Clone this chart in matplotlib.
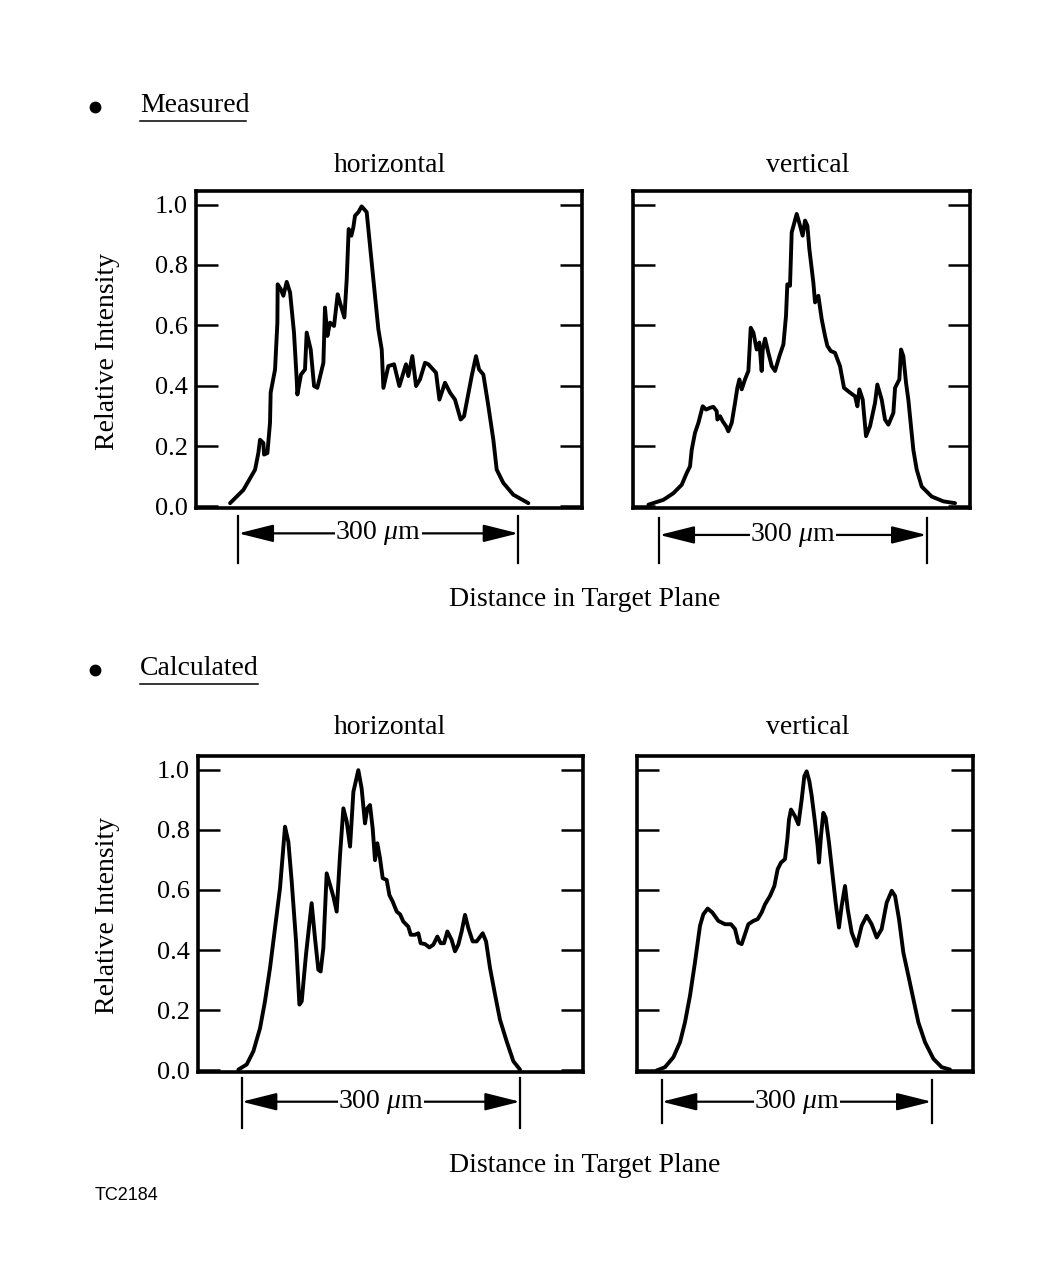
import matplotlib
matplotlib.use("Agg")
import matplotlib.pyplot as plt
from matplotlib.lines import Line2D

plt.rcParams['font.family'] = ['Liberation Serif', 'DejaVu Serif']
plt.rcParams['mathtext.fontset'] = 'custom'
plt.rcParams['mathtext.rm'] = 'Liberation Serif'
plt.rcParams['mathtext.it'] = 'Liberation Serif:italic'

# ---------------- data (distance in um, relative intensity) ----------------
meas_h_x = [-8.9, 5.4, 17.9, 21.4, 23.2, 26.8, 27.5, 31.1, 33.9, 34.6, 39.3, 41.8, 42.1, 45.4,
            48.2, 51.8, 55.4, 59.6, 62.5, 63.2, 67.1, 71.4, 73.2, 77.5, 81.1, 84.6, 91.1, 92.8,
            95.4, 98.2, 102.5, 106.4, 108.9, 113.6, 116.1, 118.2, 121.1, 123.2, 125.0, 128.6,
            132.1, 137.5, 143.9, 150.0, 153.6, 155.4, 160.7, 166.8, 172.5, 176.8, 179.6, 182.1,
            186.4, 190.4, 194.6, 200.0, 203.6, 211.8, 215.4, 221.4, 226.8, 232.1, 238.2, 241.8,
            250.0, 254.6, 257.9, 262.5, 267.9, 273.2, 276.8, 283.9, 294.6, 310.7]
meas_h_y = [0.011, 0.055, 0.122, 0.177, 0.221, 0.210, 0.172, 0.177, 0.277, 0.377, 0.454, 0.609,
            0.736, 0.720, 0.698, 0.744, 0.709, 0.576, 0.421, 0.371, 0.437, 0.454, 0.576, 0.520,
            0.399, 0.393, 0.476, 0.659, 0.565, 0.609, 0.598, 0.703, 0.675, 0.626, 0.753, 0.919,
            0.897, 0.925, 0.963, 0.975, 0.994, 0.975, 0.775, 0.587, 0.520, 0.393, 0.465, 0.471,
            0.399, 0.443, 0.471, 0.432, 0.498, 0.399, 0.421, 0.476, 0.471, 0.443, 0.354, 0.410,
            0.377, 0.354, 0.288, 0.299, 0.432, 0.498, 0.454, 0.437, 0.332, 0.221, 0.122, 0.078,
            0.039, 0.011]

meas_v_x = [-12.3, 4.5, 15.7, 25.1, 30.7, 34.4, 36.3, 40.0, 43.8, 48.6, 52.4, 56.9, 60.6, 64.3,
            65.1, 68.1, 71.1, 74.8, 77.4, 81.2, 84.9, 87.5, 89.8, 92.4, 96.1, 99.9, 102.5, 105.5,
            109.2, 112.2, 114.8, 116.0, 118.6, 122.3, 126.1, 129.8, 134.7, 139.2, 142.1, 143.6,
            146.6, 148.5, 151.1, 154.1, 157.9, 160.8, 163.5, 166.1, 168.3, 172.8, 174.7, 178.4,
            182.2, 185.9, 188.5, 192.3, 197.1, 202.7, 207.2, 214.0, 219.6, 222.2, 224.4, 228.2,
            231.9, 236.4, 242.0, 244.6, 249.5, 253.2, 257.0, 262.6, 264.5, 269.3, 271.2, 273.8,
            276.8, 279.4, 285.0, 288.8, 294.4, 305.6, 318.7, 331.8]
meas_v_y = [0.006, 0.022, 0.044, 0.072, 0.111, 0.133, 0.188, 0.244, 0.277, 0.332, 0.321, 0.327,
            0.330, 0.316, 0.288, 0.299, 0.282, 0.266, 0.249, 0.277, 0.343, 0.393, 0.421, 0.388,
            0.421, 0.449, 0.592, 0.576, 0.520, 0.543, 0.449, 0.520, 0.556, 0.509, 0.465, 0.449,
            0.498, 0.537, 0.631, 0.736, 0.731, 0.908, 0.936, 0.969, 0.930, 0.897, 0.947, 0.930,
            0.853, 0.742, 0.676, 0.698, 0.620, 0.565, 0.532, 0.515, 0.509, 0.465, 0.393, 0.377,
            0.365, 0.332, 0.388, 0.354, 0.233, 0.266, 0.343, 0.404, 0.354, 0.288, 0.271, 0.310,
            0.393, 0.421, 0.520, 0.498, 0.410, 0.354, 0.188, 0.122, 0.066, 0.033, 0.017, 0.011]

calc_h_x = [-3.6, 5.4, 12.6, 19.8, 25.1, 30.5, 35.9, 41.3, 46.7, 50.3, 53.9, 58.6, 62.2, 64.7,
            69.3, 75.4, 79.0, 82.6, 85.1, 88.0, 91.6, 95.2, 98.8, 102.4, 106.0, 109.6, 113.2,
            116.8, 120.4, 125.7, 129.3, 132.9, 135.4, 138.3, 141.2, 143.7, 146.2, 149.1, 152.0,
            156.3, 159.2, 162.8, 167.1, 170.7, 174.2, 179.6, 182.2, 186.8, 190.4, 192.9, 197.6,
            202.3, 206.6, 210.9, 214.5, 218.1, 221.7, 226.3, 229.9, 233.5, 237.1, 240.7, 244.3,
            249.0, 253.3, 259.8, 263.4, 267.7, 273.1, 278.4, 285.6, 292.8, 300.0]
calc_h_y = [0.003, 0.020, 0.064, 0.141, 0.230, 0.340, 0.473, 0.606, 0.810, 0.760, 0.628, 0.429,
            0.219, 0.230, 0.385, 0.556, 0.440, 0.335, 0.329, 0.407, 0.655, 0.617, 0.578, 0.528,
            0.716, 0.871, 0.827, 0.744, 0.926, 0.998, 0.937, 0.821, 0.871, 0.882, 0.804, 0.699,
            0.755, 0.705, 0.639, 0.633, 0.583, 0.561, 0.528, 0.519, 0.495, 0.478, 0.451, 0.451,
            0.456, 0.423, 0.420, 0.409, 0.418, 0.445, 0.423, 0.423, 0.462, 0.434, 0.396, 0.418,
            0.462, 0.517, 0.473, 0.429, 0.429, 0.456, 0.429, 0.340, 0.252, 0.169, 0.097, 0.031,
            0.003]

calc_v_x = [-5.6, 3.7, 13.0, 20.4, 25.9, 31.5, 37.0, 42.6, 46.3, 51.1, 56.3, 63.0, 70.4, 77.0,
            81.5, 85.2, 88.9, 92.6, 96.3, 101.9, 106.7, 111.1, 114.8, 120.4, 125.2, 128.9, 132.6,
            137.0, 139.6, 141.5, 143.7, 148.1, 151.9, 155.6, 158.5, 161.1, 164.1, 166.7, 170.4,
            173.3, 174.8, 177.0, 179.6, 182.2, 185.9, 189.6, 193.3, 197.0, 200.0, 203.7, 206.7,
            211.1, 216.7, 222.2, 227.8, 233.3, 238.9, 244.4, 250.0, 255.6, 259.3, 263.7, 268.5,
            274.1, 279.6, 285.2, 292.6, 301.9, 311.1, 320.4]
calc_v_y = [0.000, 0.011, 0.044, 0.094, 0.160, 0.249, 0.359, 0.481, 0.519, 0.538, 0.525, 0.497,
            0.486, 0.486, 0.470, 0.425, 0.420, 0.453, 0.486, 0.497, 0.503, 0.525, 0.552, 0.580,
            0.613, 0.669, 0.691, 0.702, 0.768, 0.834, 0.867, 0.845, 0.818, 0.901, 0.978, 0.994,
            0.961, 0.912, 0.823, 0.746, 0.691, 0.779, 0.856, 0.840, 0.757, 0.657, 0.558, 0.475,
            0.547, 0.613, 0.536, 0.459, 0.414, 0.481, 0.514, 0.486, 0.442, 0.470, 0.558, 0.597,
            0.580, 0.503, 0.392, 0.315, 0.238, 0.160, 0.094, 0.039, 0.011, 0.003]

y_ticks = [0.0, 0.2, 0.4, 0.6, 0.8, 1.0]
y_tick_labels = ['0.0', '0.2', '0.4', '0.6', '0.8', '1.0']
scale_length = 300  # um
scale_label = r'300 $\mu$m'
panel_titles = ['horizontal', 'vertical']
section_titles = ['Measured', 'Calculated']
x_label = 'Distance in Target Plane'
y_label = 'Relative Intensity'
fig_id = 'TC2184'

# ---------------- layout ----------------
W, H = 1063, 1263
fig = plt.figure(figsize=(W / 100, H / 100), dpi=100)
fig.patch.set_facecolor('white')


def fx(px):
    return px / W


def fy(py):
    return 1 - py / H


panels = [
    (meas_h_x, meas_h_y, [fx(196), fy(508), fx(582) - fx(196), fy(191) - fy(508)], (-45.4, 368.2), -0.080, (-0.024, -0.172), True),
    (meas_v_x, meas_v_y, [fx(633), fy(508), fx(970) - fx(633), fy(191) - fy(508)], (-29.6, 348.6), -0.085, (-0.032, -0.174), False),
    (calc_h_x, calc_h_y, [fx(198), fy(1072), fx(583) - fx(198), fy(756) - fy(1072)], (-47.1, 367.9), -0.094, (-0.020, -0.176), True),
    (calc_v_x, calc_v_y, [fx(637), fy(1072), fx(973) - fx(637), fy(756) - fy(1072)], (-27.4, 345.9), -0.094, (-0.025, -0.162), False),
]

lw_spine = 2.6
for (xs, ys, rect, xlim, ay, bars, show_labels) in panels:
    ax = fig.add_axes(rect)
    ax.plot(xs, ys, color='black', lw=2.8, solid_joinstyle='round', solid_capstyle='round')
    ax.set_xlim(*xlim)
    ax.set_ylim(-0.005, 1.045)
    ax.set_xticks([])
    ax.set_yticks(y_ticks)
    if show_labels:
        ax.set_yticklabels(y_tick_labels, fontsize=19)
    else:
        ax.set_yticklabels([])
    ax.tick_params(axis='y', direction='in', length=16, width=1.8, left=True, right=True, pad=6)
    for s in ax.spines.values():
        s.set_linewidth(lw_spine)
    tr = ax.get_xaxis_transform()
    # scale bar
    for bx in (0, scale_length):
        ax.plot([bx, bx], list(bars), color='black', lw=1.6, transform=tr, clip_on=False)
    for end in (0, scale_length):
        ax.annotate('', xy=(end, ay), xytext=(scale_length / 2, ay), xycoords=tr, textcoords=tr,
                    arrowprops=dict(arrowstyle='-|>,head_length=1.2,head_width=0.3', color='black',
                                    lw=1.6, shrinkA=0, shrinkB=0, mutation_scale=18),
                    annotation_clip=False)
    ax.text(scale_length / 2, ay, scale_label, transform=tr, ha='center', va='center', fontsize=20,
            bbox=dict(facecolor='white', edgecolor='none', pad=0.3), clip_on=False)

# titles and labels
for row, (ytitle, ysec, yul, ybul, ydist, ylab) in enumerate([
        (165, 111.5, 121, 106.5, 600, 352),
        (727, 675, 684, 670, 1165, 916)]):
    fig.text(fx(390), fy(ytitle), panel_titles[0], ha='center', va='center', fontsize=20)
    fig.text(fx(808), fy(ytitle), panel_titles[1], ha='center', va='center', fontsize=20)
    fig.text(fx(140), fy(ysec), section_titles[row], ha='left', va='baseline', fontsize=20)
    ul_end = 246 if row == 0 else 258
    fig.add_artist(Line2D([fx(140), fx(ul_end)], [fy(yul), fy(yul)], color='black', lw=1.1,
                          transform=fig.transFigure))
    fig.add_artist(Line2D([fx(95)], [fy(ybul)], marker='o', markersize=7.5, color='black',
                          transform=fig.transFigure))
    fig.text(fx(585), fy(ydist), x_label, ha='center', va='center', fontsize=20)
    fig.text(fx(108), fy(ylab), y_label, ha='center', va='center', rotation=90, fontsize=20)

fig.text(fx(95), fy(1195), fig_id, ha='left', va='center', fontsize=13,
         family=['Liberation Sans', 'DejaVu Sans'])

fig.savefig('out.png', dpi=100, facecolor='white')
